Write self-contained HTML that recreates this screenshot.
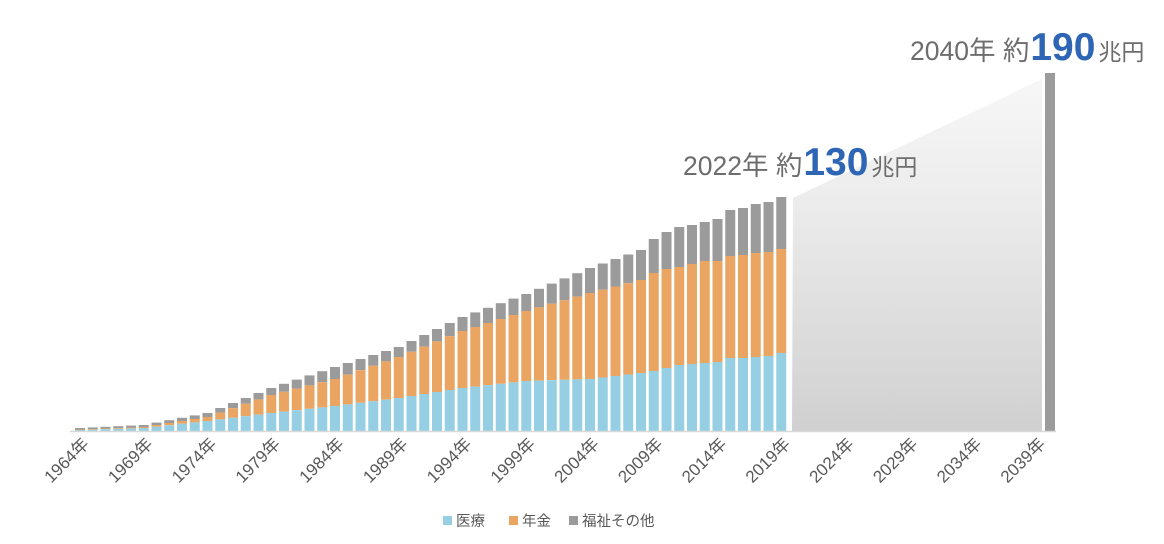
<!DOCTYPE html>
<html><head><meta charset="utf-8">
<style>
html,body{margin:0;padding:0;background:#fff;width:1164px;height:544px;overflow:hidden}
svg{display:block}
text{font-family:"Liberation Sans","Noto Sans CJK JP",sans-serif}
</style></head><body>
<svg id="c" width="1164" height="544" viewBox="0 0 1164 544" xmlns="http://www.w3.org/2000/svg">
<defs>
<linearGradient id="g" x1="0" y1="0" x2="0" y2="1">
<stop offset="0" stop-color="#f7f7f7"/><stop offset="0.35" stop-color="#ececec"/><stop offset="1" stop-color="#d0d0d0"/>
</linearGradient>
</defs>
<polygon points="793,198 1042,79 1042,431 792,431" fill="url(#g)"/>
<rect x="1045" y="73" width="10" height="358" fill="#9b9b9b"/>
<g id="bars"></g>
<line x1="70" y1="431.5" x2="1056" y2="431.5" stroke="#d9d9d9" stroke-width="1.5"/>
<g id="labels" font-size="17" fill="#595959"></g>
<text x="683" y="175" font-size="26.5" fill="#6d6d6d">2022年 約<tspan font-size="39" font-weight="bold" fill="#2e66b5" dx="1">130</tspan><tspan font-size="23" dx="3">兆円</tspan></text>
<text x="910" y="60" font-size="26.5" fill="#6d6d6d">2040年 約<tspan font-size="39" font-weight="bold" fill="#2e66b5" dx="1">190</tspan><tspan font-size="23" dx="3">兆円</tspan></text>
<g font-size="14.5" fill="#595959">
<rect x="443" y="516" width="9" height="9" fill="#96cfe3"/><text x="456" y="526">医療</text>
<rect x="509" y="516" width="9" height="9" fill="#eba563"/><text x="522" y="526">年金</text>
<rect x="569" y="516" width="9" height="9" fill="#9b9b9b"/><text x="582" y="526">福祉その他</text>
</g>
</svg>
<script>
var keys=[[0,428,429.5,430],[5,425,427,428],[10,413,417,421],[15,388,395,413],[20,367,379,406],[25,347,357,398],[30,317,331,388],[35,294,311,381],[40,268,293,379],[44,250,280,373],[45,239,273,371],[46,232,269,368],[47,227,267,365],[48,225,264,364],[49,222,261,363],[50,219,261,362],[51,210,256,358],[52,208,255,358],[53,204,253,357],[54,202,252,356],[55,197,249,353]];
function interp(i,k){for(var j=0;j<keys.length-1;j++){var a=keys[j],b=keys[j+1];if(i>=a[0]&&i<=b[0]){var t=(i-a[0])/(b[0]-a[0]);return a[k]+(b[k]-a[k])*t;}}return keys[keys.length-1][k];}
var g=document.getElementById("bars"),s="";
for(var i=0;i<56;i++){var x=75+i*12.75,w=10;var t=interp(i,1),o=interp(i,2),b=interp(i,3);
s+='<rect x="'+x+'" y="'+t+'" width="'+w+'" height="'+(o-t)+'" fill="#9b9b9b"/>';
s+='<rect x="'+x+'" y="'+o+'" width="'+w+'" height="'+(b-o)+'" fill="#eba563"/>';
s+='<rect x="'+x+'" y="'+b+'" width="'+w+'" height="'+(431-b)+'" fill="#96cfe3"/>';}
g.innerHTML=s;
var L=document.getElementById("labels"),ls="";
for(var k=0;k<16;k++){var yr=1964+5*k;var cx=80+5*k*12.75+10;ls+='<text text-anchor="end" transform="translate('+cx+',445) rotate(-45)">'+yr+'年</text>';}
L.innerHTML=ls;
</script>
</body></html>
